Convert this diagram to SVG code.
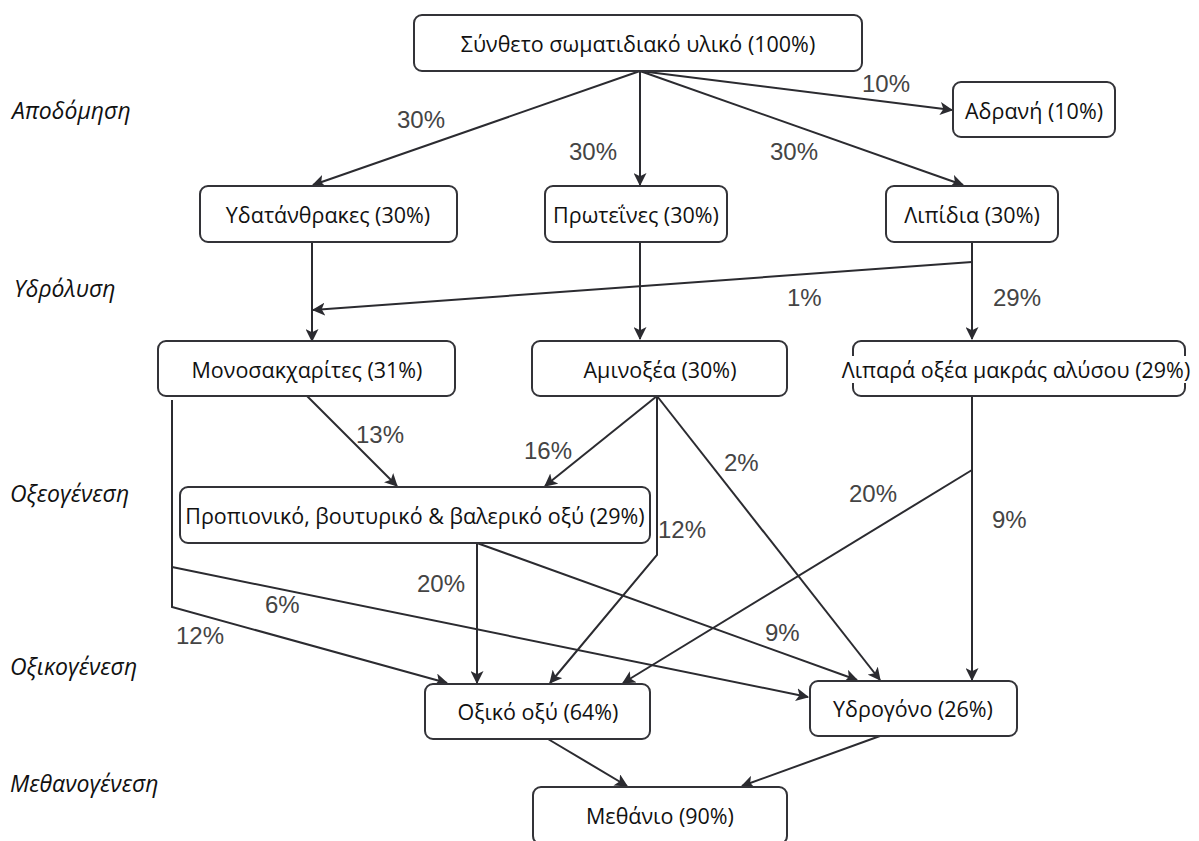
<svg xmlns="http://www.w3.org/2000/svg" width="1199" height="841" viewBox="0 0 1199 841">
<style>
.box{fill:#fff;stroke:#333338;stroke-width:2}
.t{font-family:"Open Sans","Noto Sans",sans-serif;font-size:21.5px;fill:#111;text-anchor:middle;dominant-baseline:central}
.st{font-family:"Open Sans","Noto Sans",sans-serif;font-size:23px;font-style:italic;fill:#111}
.p{font-family:"Liberation Sans",Arial,sans-serif;font-size:24px;fill:#444}
.c{fill:none;stroke:#2b2b30;stroke-width:2}
.a{marker-end:url(#ah)}
</style>
<defs>
<marker id="ah" viewBox="0 0 12 12" refX="11" refY="6" markerWidth="13" markerHeight="13" markerUnits="userSpaceOnUse" orient="auto">
<path d="M0,0 L12,6 L0,12 L3,6 z" fill="#2b2b30"/>
</marker>
</defs>
<rect width="1199" height="841" fill="#fff"/>

<g id="stages">
<text class="st" x="12" y="119">Αποδόμηση</text>
<text class="st" x="14" y="297">Υδρόλυση</text>
<text class="st" x="10" y="502">Οξεογένεση</text>
<text class="st" x="10" y="675">Οξικογένεση</text>
<text class="st" x="10" y="792">Μεθανογένεση</text>
</g>

<g id="connectors">
<path class="c a" d="M640,71 L313,185"/>
<path class="c a" d="M640,71 L640,185"/>
<path class="c a" d="M640,71 L963,185"/>
<path class="c a" d="M640,71 L952,110"/>
<path class="c a" d="M312,242 L312,341"/>
<path class="c a" d="M972,262 L313,310"/>
<path class="c a" d="M640,242 L640,339"/>
<path class="c a" d="M972,242 L972,339"/>
<path class="c a" d="M307,396 L397,486"/>
<path class="c a" d="M172,400 L172,607 L447,683"/>
<path class="c a" d="M172,567 L808,697"/>
<path class="c a" d="M657,396 L545,486"/>
<path class="c a" d="M657,396 L657,555 L550,683"/>
<path class="c a" d="M657,396 L880,680"/>
<path class="c a" d="M972,396 L972,680"/>
<path class="c a" d="M972,470 L623,683"/>
<path class="c a" d="M477,543 L477,683"/>
<path class="c a" d="M477,543 L857,680"/>
<path class="c a" d="M548,739 L627,786"/>
<path class="c a" d="M880,736 L742,786"/>
</g>

<g id="labels">
<text class="p" x="397" y="128">30%</text>
<text class="p" x="569" y="160">30%</text>
<text class="p" x="770" y="160">30%</text>
<text class="p" x="862" y="92">10%</text>
<text class="p" x="787" y="306">1%</text>
<text class="p" x="993" y="306">29%</text>
<text class="p" x="356" y="443">13%</text>
<text class="p" x="524" y="459">16%</text>
<text class="p" x="658" y="538">12%</text>
<text class="p" x="724" y="471">2%</text>
<text class="p" x="849" y="502">20%</text>
<text class="p" x="992" y="528">9%</text>
<text class="p" x="417" y="592">20%</text>
<text class="p" x="765" y="641">9%</text>
<text class="p" x="265" y="613">6%</text>
<text class="p" x="176" y="644">12%</text>
</g>

<g id="n-synth"><rect class="box" x="414" y="15" width="448" height="56" rx="8"/><text class="t" x="638" y="43">Σύνθετο σωματιδιακό υλικό (100%)</text></g>
<g id="n-adrani"><rect class="box" x="953" y="82" width="162" height="55" rx="8"/><text class="t" x="1034" y="110">Αδρανή (10%)</text></g>
<g id="n-ydat"><rect class="box" x="200" y="186" width="257" height="56" rx="8"/><text class="t" x="328" y="214">Υδατάνθρακες (30%)</text></g>
<g id="n-prot"><rect class="box" x="545" y="186" width="182" height="56" rx="8"/><text class="t" x="636" y="214">Πρωτεΐνες (30%)</text></g>
<g id="n-lip"><rect class="box" x="886" y="186" width="172" height="56" rx="8"/><text class="t" x="972" y="214">Λιπίδια (30%)</text></g>
<g id="n-mono"><rect class="box" x="158" y="341" width="297" height="55" rx="8"/><text class="t" x="307" y="369">Μονοσακχαρίτες (31%)</text></g>
<g id="n-amino"><rect class="box" x="532" y="341" width="255" height="55" rx="8"/><text class="t" x="660" y="369">Αμινοξέα (30%)</text></g>
<g id="n-lipara"><rect class="box" x="853" y="341" width="332" height="55" rx="8"/><rect x="838" y="356" width="358" height="27" fill="#fff"/><text class="t" x="1016" y="369">Λιπαρά οξέα μακράς αλύσου (29%)</text></g>
<g id="n-prop"><rect class="box" x="180" y="487" width="470" height="56" rx="8"/><text class="t" x="415" y="515">Προπιονικό, βουτυρικό &amp; βαλερικό οξύ (29%)</text></g>
<g id="n-oxiko"><rect class="box" x="425" y="684" width="225" height="55" rx="8"/><text class="t" x="538" y="711">Οξικό οξύ (64%)</text></g>
<g id="n-ydrog"><rect class="box" x="810" y="681" width="207" height="55" rx="8"/><text class="t" x="913" y="708">Υδρογόνο (26%)</text></g>
<g id="n-meth"><rect class="box" x="533" y="787" width="254" height="57" rx="8"/><text class="t" x="660" y="815">Μεθάνιο (90%)</text></g>
</svg>
